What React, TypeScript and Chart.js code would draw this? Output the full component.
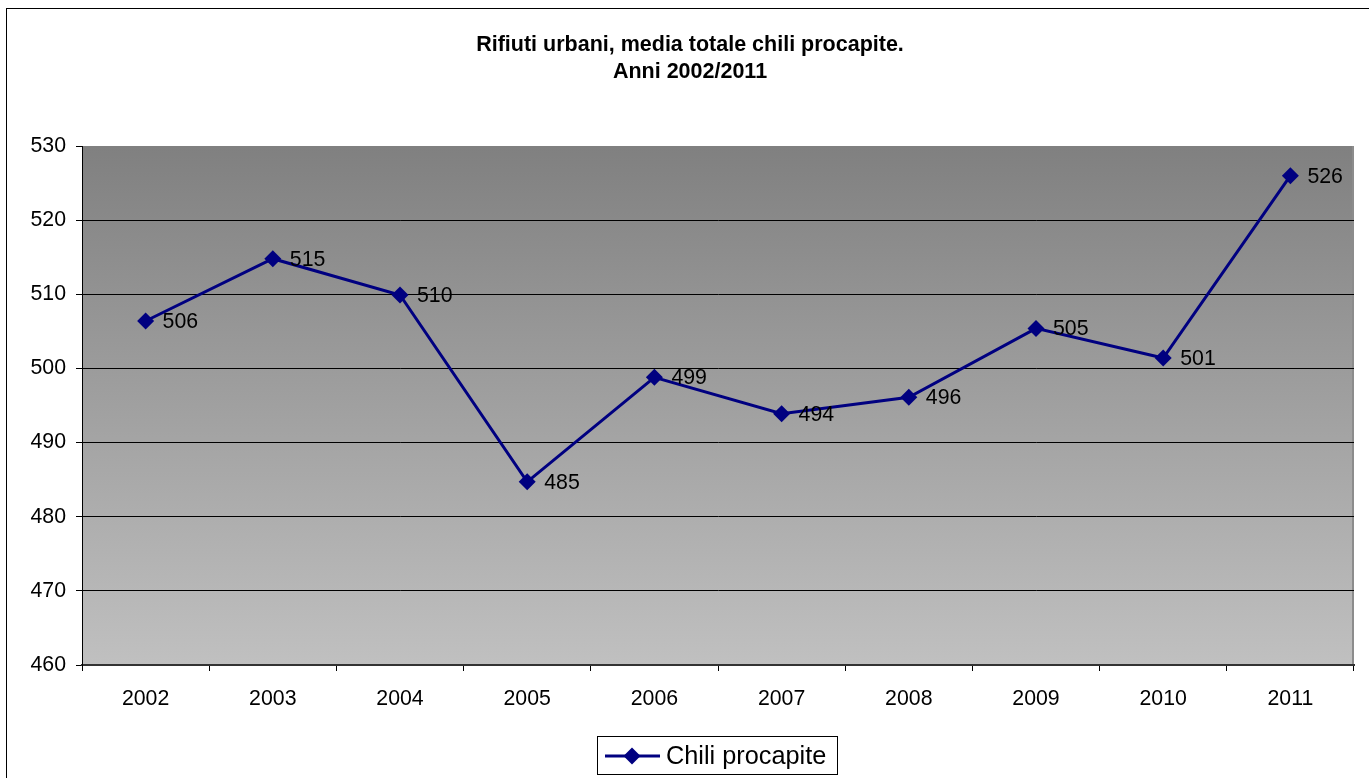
import React, { useEffect, useRef } from "react";
import { Chart, registerables } from "chart.js";

Chart.register(...registerables);

const years: string[] = ["2002", "2003", "2004", "2005", "2006", "2007", "2008", "2009", "2010", "2011"];
const chiliProcapite: number[] = [506.4, 514.8, 509.9, 484.7, 498.8, 493.9, 496.1, 505.4, 501.4, 526.0];
const seriesLabel = "Chili procapite";
const titleLines: string[] = ["Rifiuti urbani, media totale chili procapite.", "Anni 2002/2011"];
const yMin = 460;
const yMax = 530;
const yStep = 10;

const FONT = "'Liberation Sans', Arial, sans-serif";
const NAVY = "#000080";

function drawDiamond(ctx: CanvasRenderingContext2D, x: number, y: number, r: number) {
  ctx.beginPath();
  ctx.moveTo(x, y - r);
  ctx.lineTo(x + r, y);
  ctx.lineTo(x, y + r);
  ctx.lineTo(x - r, y);
  ctx.closePath();
  ctx.fill();
}

const decorPlugin = {
  id: "decor",
  beforeDraw(chart: any) {
    const { ctx, chartArea } = chart;
    ctx.save();
    ctx.fillStyle = "#ffffff";
    ctx.fillRect(0, 0, chart.width, chart.height);
    ctx.strokeStyle = "#000000";
    ctx.lineWidth = 1;
    ctx.strokeRect(6.5, 8.5, chart.width + 20, chart.height + 20);
    const g = ctx.createLinearGradient(0, chartArea.top, 0, chartArea.bottom);
    g.addColorStop(0, "#808080");
    g.addColorStop(1, "#c0c0c0");
    ctx.fillStyle = g;
    ctx.fillRect(chartArea.left, chartArea.top, chartArea.right - chartArea.left, chartArea.bottom - chartArea.top);
    ctx.strokeStyle = "#8c8c8c";
    ctx.lineWidth = 2;
    ctx.beginPath();
    ctx.moveTo(chartArea.right - 1, chartArea.top);
    ctx.lineTo(chartArea.right - 1, chartArea.bottom);
    ctx.stroke();
    ctx.fillStyle = "#000000";
    ctx.font = `bold 21.5px ${FONT}`;
    ctx.textAlign = "center";
    ctx.textBaseline = "middle";
    ctx.fillText(titleLines[0], 690, 45);
    ctx.fillText(titleLines[1], 690, 72);
    ctx.restore();
  },
  afterDatasetsDraw(chart: any) {
    const { ctx } = chart;
    const meta = chart.getDatasetMeta(0);
    const data = chart.data.datasets[0].data as number[];
    ctx.save();
    ctx.fillStyle = "#000000";
    ctx.font = `21.3px ${FONT}`;
    ctx.textAlign = "left";
    ctx.textBaseline = "middle";
    meta.data.forEach((pt: any, i: number) => {
      ctx.fillText(String(Math.round(data[i])), pt.x + 17, pt.y + 1);
    });
    ctx.restore();
  },
  afterDraw(chart: any) {
    const { ctx } = chart;
    ctx.save();
    ctx.fillStyle = "#ffffff";
    ctx.fillRect(597.5, 736.5, 240, 38);
    ctx.strokeStyle = "#000000";
    ctx.lineWidth = 1;
    ctx.strokeRect(597.5, 736.5, 240, 38);
    ctx.strokeStyle = NAVY;
    ctx.lineWidth = 3;
    ctx.beginPath();
    ctx.moveTo(605, 756);
    ctx.lineTo(660, 756);
    ctx.stroke();
    ctx.fillStyle = NAVY;
    drawDiamond(ctx, 632, 756, 8.5);
    ctx.fillStyle = "#000000";
    ctx.font = `25.3px ${FONT}`;
    ctx.textAlign = "left";
    ctx.textBaseline = "middle";
    ctx.fillText(chart.data.datasets[0].label, 666, 757);
    ctx.restore();
  },
};

export default function App() {
  const ref = useRef<HTMLCanvasElement>(null);
  useEffect(() => {
    document.body.style.margin = "0";
    const canvas = ref.current!;
    const chart = new Chart(canvas, {
      type: "line",
      data: {
        labels: years,
        datasets: [
          {
            label: seriesLabel,
            data: chiliProcapite,
            borderColor: NAVY,
            backgroundColor: NAVY,
            borderWidth: 3,
            pointStyle: "rectRot",
            pointRadius: 8.5,
            pointHoverRadius: 8.5,
            pointBackgroundColor: NAVY,
            pointBorderColor: NAVY,
            pointBorderWidth: 0,
            tension: 0,
            fill: false,
          },
        ],
      },
      options: {
        responsive: false,
        animation: false,
        events: [],
        layout: { padding: { left: 0, right: 15, top: 146, bottom: 0 } },
        plugins: {
          legend: { display: false },
          title: { display: false },
          tooltip: { enabled: false },
        },
        scales: {
          x: {
            type: "category",
            offset: true,
            grid: {
              offset: true,
              drawOnChartArea: false,
              drawTicks: true,
              tickLength: 6,
              tickColor: "#000000",
              color: "#000000",
            },
            border: { display: true, color: "#333333", width: 2 },
            ticks: {
              color: "#000000",
              font: { family: FONT, size: 21.3 },
              padding: 15,
              maxRotation: 0,
              autoSkip: false,
            },
            afterFit(scale: any) {
              scale.height = 113;
            },
          },
          y: {
            min: yMin,
            max: yMax,
            grid: {
              color: (c: any) => (c.tick && c.tick.value === yMax ? "rgba(0,0,0,0)" : "#000000"),
              tickColor: "#000000",
              tickLength: 6,
              drawTicks: true,
              lineWidth: 1,
            },
            border: { display: true, color: "#000000", width: 1 },
            ticks: {
              stepSize: yStep,
              color: "#000000",
              font: { family: FONT, size: 21.3 },
              padding: 10,
            },
            afterFit(scale: any) {
              scale.width = 82;
            },
          },
        },
      },
      plugins: [decorPlugin],
    });
    return () => chart.destroy();
  }, []);
  return (
    <div style={{ width: 1369, height: 778, position: "relative" }}>
      <canvas ref={ref} width={1369} height={778} style={{ display: "block" }} />
    </div>
  );
}
